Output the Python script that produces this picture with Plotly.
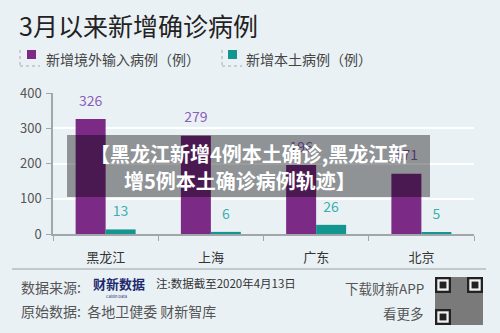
import plotly.graph_objects as go

# ---- data ----
categories = ["黑龙江", "上海", "广东", "北京"]
imported = [326, 279, 196, 171]
local = [13, 6, 26, 5]
y_ticks = [0, 100, 200, 300, 400]

title = "3月以来新增确诊病例"
legend_names = ["新增境外输入病例（例）", "新增本土病例（例）"]
banner_lines = ["【黑龙江新增4例本土确诊,黑龙江新", "增5例本土确诊病例轨迹】"]

PURPLE = "#7b2a85"
TEAL = "#139690"
BG = "#eaf1f5"
FONT = "Noto Sans CJK SC"

W, H = 500, 333
L, R, T, B = 53, 26, 93, 99
PW, PH = W - L - R, H - T - B


def px(x):
    return (x - L) / PW


def py(y):
    return (H - B - y) / PH


fig = go.Figure()
fig.add_trace(go.Bar(x=categories, y=imported, marker_color=PURPLE, name=legend_names[0],
                     marker_line_width=0, offsetgroup="a"))
fig.add_trace(go.Bar(x=categories, y=local, marker_color=TEAL, name=legend_names[1],
                     marker_line_width=0, offsetgroup="b"))
# value labels (as traces so the banner can cover them)
fig.add_trace(go.Scatter(x=categories, y=imported, mode="markers+text", text=[str(v) for v in imported],
                         textposition="top center", offsetgroup="a",
                         marker=dict(size=14, color="rgba(0,0,0,0)"),
                         textfont=dict(family=FONT, size=14, color="#8c5cbc"), hoverinfo="skip"))
fig.add_trace(go.Scatter(x=categories, y=local, mode="markers+text", text=[str(v) for v in local],
                         textposition="top center", offsetgroup="b",
                         marker=dict(size=14, color="rgba(0,0,0,0)"),
                         textfont=dict(family=FONT, size=14, color="#3ab0ac"), hoverinfo="skip"))

ann = []
# title
ann.append(dict(x=px(17), y=py(25), xref="paper", yref="paper", xanchor="left", yanchor="middle",
                text=title, showarrow=False, font=dict(family=FONT, size=25, color="#222")))
# legend texts
ann.append(dict(x=px(44), y=py(59), xref="paper", yref="paper", xanchor="left", yanchor="middle",
                text=legend_names[0], showarrow=False, font=dict(family=FONT, size=14, color="#444")))
ann.append(dict(x=px(244), y=py(59), xref="paper", yref="paper", xanchor="left", yanchor="middle",
                text=legend_names[1], showarrow=False, font=dict(family=FONT, size=14, color="#444")))

# banner text
ann.append(dict(x=px(249), y=py(153), xref="paper", yref="paper", xanchor="center", yanchor="middle",
                text="<b>" + banner_lines[0] + "</b>", showarrow=False,
                font=dict(family=FONT, size=20, color="white")))
ann.append(dict(x=px(240), y=py(180), xref="paper", yref="paper", xanchor="center", yanchor="middle",
                text="<b>" + banner_lines[1] + "</b>", showarrow=False,
                font=dict(family=FONT, size=20, color="white")))

# footer
ann.append(dict(x=px(19), y=py(287), xref="paper", yref="paper", xanchor="left", yanchor="middle",
                text="数据来源:", showarrow=False, font=dict(family=FONT, size=14, color="#555")))
ann.append(dict(x=px(91), y=py(283), xref="paper", yref="paper", xanchor="left", yanchor="middle",
                text="<b>财新数据</b>", showarrow=False, font=dict(family=FONT, size=13, color="#1d2a6e")))
ann.append(dict(x=px(104), y=py(296), xref="paper", yref="paper", xanchor="left", yanchor="middle",
                text="Caixin Data", showarrow=False, font=dict(family=FONT, size=4, color="#1d2a6e")))
ann.append(dict(x=px(154), y=py(283), xref="paper", yref="paper", xanchor="left", yanchor="middle",
                text="注:数据截至2020年4月13日", showarrow=False, font=dict(family=FONT, size=11.5, color="#333")))
ann.append(dict(x=px(19), y=py(311), xref="paper", yref="paper", xanchor="left", yanchor="middle",
                text="原始数据:  各地卫健委 财新智库", showarrow=False, font=dict(family=FONT, size=14, color="#555")))
ann.append(dict(x=px(426), y=py(288), xref="paper", yref="paper", xanchor="right", yanchor="middle",
                text="下载财新APP", showarrow=False, font=dict(family=FONT, size=13.5, color="#555")))
ann.append(dict(x=px(426), y=py(313), xref="paper", yref="paper", xanchor="right", yanchor="middle",
                text="看更多", showarrow=False, font=dict(family=FONT, size=13.5, color="#555")))

shapes = []
# legend squares and dotted boxes
shapes.append(dict(type="rect", xref="paper", yref="paper", x0=px(27), x1=px(36), y0=py(50), y1=py(59),
                   fillcolor=PURPLE, line_width=0))
shapes.append(dict(type="rect", xref="paper", yref="paper", x0=px(228), x1=px(237), y0=py(50), y1=py(59),
                   fillcolor=TEAL, line_width=0))
for x0 in (20, 222):
    shapes.append(dict(type="line", xref="paper", yref="paper", x0=px(x0), x1=px(x0), y0=py(50), y1=py(66),
                       line=dict(color="#aaa", width=1, dash="dot")))
    shapes.append(dict(type="line", xref="paper", yref="paper", x0=px(x0), x1=px(x0 + 20), y0=py(66), y1=py(66),
                       line=dict(color="#aaa", width=1, dash="dot")))
# banner
shapes.append(dict(type="rect", xref="paper", yref="paper", x0=px(67), x1=px(430), y0=py(135), y1=py(197),
                   fillcolor="rgba(0,0,0,0.39)", line_width=0, layer="above"))
# footer separator
shapes.append(dict(type="line", xref="paper", yref="paper", x0=px(12), x1=px(486), y0=py(269), y1=py(269),
                   line=dict(color="#9aa0a4", width=1)))
# QR code approximation
qx0, qy0, qs = 435, 277, 48
shapes.append(dict(type="rect", xref="paper", yref="paper", x0=px(qx0), x1=px(qx0 + qs), y0=py(qy0),
                   y1=py(qy0 + qs), fillcolor="#7a7a7a", line_width=0))
m = qs / 21
for (fx, fy) in ((0, 0), (14, 0), (0, 14)):
    for k, col in ((0, "#222"), (1, "#f2f2f2"), (2, "#222")):
        shapes.append(dict(type="rect", xref="paper", yref="paper",
                           x0=px(qx0 + (fx + k) * m), x1=px(qx0 + (fx + 7 - k) * m),
                           y0=py(qy0 + (fy + k) * m), y1=py(qy0 + (fy + 7 - k) * m),
                           fillcolor=col, line_width=0))

fig.update_layout(
    width=W, height=H, margin=dict(l=L, r=R, t=T, b=B),
    paper_bgcolor=BG, plot_bgcolor=BG,
    barmode="group", bargap=0.43, bargroupgap=0,
    scattermode="group", scattergap=0.43,
    showlegend=False,
    annotations=ann, shapes=shapes,
    font=dict(family=FONT),
    xaxis=dict(tickson="boundaries", ticks="outside", ticklen=5, tickcolor="#a0a6aa",
               showline=True, linecolor="#a0a6aa", linewidth=1.5, showgrid=False,
               tickfont=dict(family=FONT, size=13, color="#333"), ticklabelstandoff=11),
    yaxis=dict(range=[0, 400], tickvals=y_ticks, ticks="outside", ticklen=5, tickcolor="#a0a6aa",
               showline=True, linecolor="#a0a6aa", linewidth=1.5, gridcolor="white", gridwidth=2,
               zeroline=False, tickfont=dict(family=FONT, size=13, color="#555"), ticklabelstandoff=2),
)

fig.write_html("out.html")
